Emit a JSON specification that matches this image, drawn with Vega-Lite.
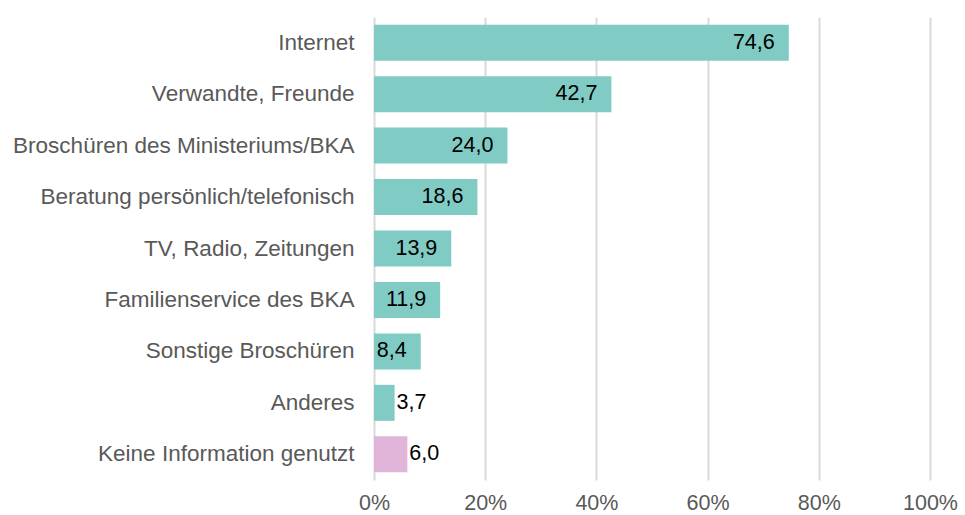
{
  "$schema": "https://vega.github.io/schema/vega-lite/v6.json",
  "autosize": "none",
  "width": 556,
  "height": 463,
  "padding": {"left": 374, "top": 17, "right": 35, "bottom": 35},
  "background": "white",
  "config": {
    "view": {"stroke": null},
    "font": "Liberation Sans"
  },
  "data": {
    "values": [
      {"cat": "Internet", "value": 74.6, "label": "74,6", "grp": "a", "inside": true},
      {"cat": "Verwandte, Freunde", "value": 42.7, "label": "42,7", "grp": "a", "inside": true},
      {"cat": "Broschüren des Ministeriums/BKA", "value": 24.0, "label": "24,0", "grp": "a", "inside": true},
      {"cat": "Beratung persönlich/telefonisch", "value": 18.6, "label": "18,6", "grp": "a", "inside": true},
      {"cat": "TV, Radio, Zeitungen", "value": 13.9, "label": "13,9", "grp": "a", "inside": true},
      {"cat": "Familienservice des BKA", "value": 11.9, "label": "11,9", "grp": "a", "inside": true},
      {"cat": "Sonstige Broschüren", "value": 8.4, "label": "8,4", "grp": "a", "inside": true},
      {"cat": "Anderes", "value": 3.7, "label": "3,7", "grp": "a", "inside": false},
      {"cat": "Keine Information genutzt", "value": 6.0, "label": "6,0", "grp": "b", "inside": false}
    ]
  },
  "encoding": {
    "y": {
      "field": "cat", "type": "nominal", "sort": null, "title": null,
      "scale": {"paddingInner": 0.3, "paddingOuter": 0.15},
      "axis": {"domain": false, "ticks": false, "labelFontSize": 22.5, "labelColor": "#595959", "labelPadding": 20, "labelLimit": 400}
    },
    "x": {
      "field": "value", "type": "quantitative", "title": null,
      "scale": {"domain": [0, 100], "nice": false},
      "axis": {"values": [0, 20, 40, 60, 80, 100], "labelExpr": "datum.value + '%'", "domain": false, "ticks": false, "grid": true, "gridColor": "#d9d9d9", "gridWidth": 2, "labelFontSize": 21.5, "labelColor": "#595959", "labelPadding": 12, "labelFlush": false}
    }
  },
  "layer": [
    {
      "mark": {"type": "bar"},
      "encoding": {
        "color": {"field": "grp", "type": "nominal", "legend": null,
          "scale": {"domain": ["a", "b"], "range": ["#80CBC4", "#E1B4DA"]}}
      }
    },
    {
      "transform": [{"filter": "datum.inside"}],
      "mark": {"type": "text", "align": "right", "dx": -14, "fontSize": 21.5, "color": "#000000"},
      "encoding": {"text": {"field": "label"}}
    },
    {
      "transform": [{"filter": "!datum.inside"}],
      "mark": {"type": "text", "align": "left", "dx": 2, "fontSize": 21.5, "color": "#000000"},
      "encoding": {"text": {"field": "label"}}
    }
  ]
}
